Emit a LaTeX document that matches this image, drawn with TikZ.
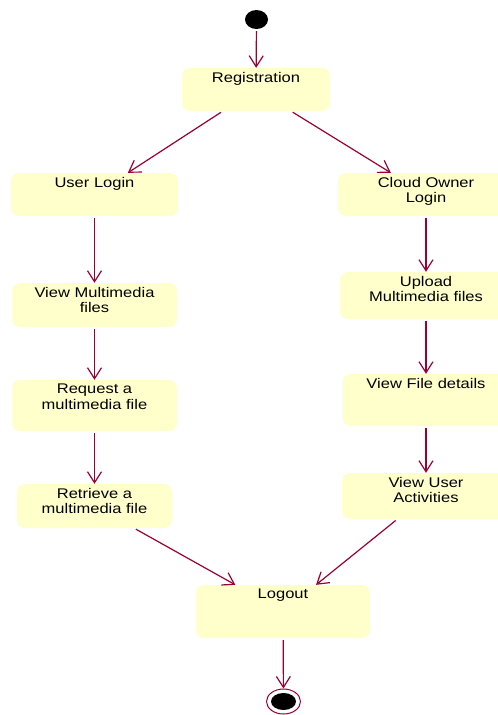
\documentclass[tikz,border=0pt]{standalone}
\usepackage{fontspec}
\setmainfont{Liberation Sans}[FakeStretch=1.18]
\usetikzlibrary{arrows.meta,shapes.geometric}
\definecolor{boxfill}{HTML}{FFFFCC}
\definecolor{flow}{HTML}{990033}
\tikzset{
  statebox/.style={rectangle, rounded corners=8pt, fill=boxfill, draw=none, inner sep=0pt},
  lbl/.style={anchor=north, inner sep=0pt, yshift=-4pt, align=center, font=\fontsize{14}{15.6}\selectfont},
  flowarrow/.style={draw=flow, line width=1.2pt, shorten <=2pt, -{Straight Barb[length=11pt,width=14pt,line width=1.2pt]}}
}
\begin{document}
\begin{tikzpicture}[x=1pt,y=-1pt]
\useasboundingbox (0,0) rectangle (498,715);
\clip (0,0) rectangle (498,715);
\node[ellipse, fill=black, minimum width=23pt, minimum height=19pt, inner sep=0pt] (start) at (256.5,19.5) {};
\node[statebox, minimum width=148pt, minimum height=43pt, label={[lbl]north:Registration}] (reg) at (256,89.5) {};
\node[statebox, minimum width=167pt, minimum height=43pt, label={[lbl]north:User Login}] (ul) at (94.5,194.5) {};
\node[statebox, minimum width=176pt, minimum height=43pt, label={[lbl]north:Cloud Owner\\Login}] (col) at (426,194.5) {};
\node[statebox, minimum width=165pt, minimum height=44pt, label={[lbl]north:View Multimedia\\files}] (vmf) at (94.5,305) {};
\node[statebox, minimum width=165pt, minimum height=51pt, label={[lbl]north:Request a\\multimedia file}] (req) at (94.5,405.5) {};
\node[statebox, minimum width=155pt, minimum height=44pt, label={[lbl]north:Retrieve a\\multimedia file}] (ret) at (94.5,506) {};
\node[statebox, minimum width=172pt, minimum height=47pt, label={[lbl]north:Upload\\Multimedia files}] (up) at (426,295.5) {};
\node[statebox, minimum width=166pt, minimum height=52pt, label={[lbl]north:View File details}] (vfd) at (426,400) {};
\node[statebox, minimum width=168pt, minimum height=46pt, label={[lbl]north:View User\\Activities}] (vua) at (426,496) {};
\node[statebox, minimum width=174pt, minimum height=53pt, label={[lbl]north:Logout}] (out) at (283,611.5) {};
\node[ellipse, draw=flow, line width=1pt, fill=white, minimum width=34pt, minimum height=25pt, inner sep=0pt] (end) at (283.5,701.5) {};
\node[ellipse, fill=black, minimum width=25pt, minimum height=17pt, inner sep=0pt] (endin) at (283.5,701.5) {};
\path[flowarrow] (start) -- (reg);
\path[flowarrow] (reg) -- (ul);
\path[flowarrow] (reg) -- (col);
\path[flowarrow] (ul) -- (vmf);
\path[flowarrow] (vmf) -- (req);
\path[flowarrow] (req) -- (ret);
\path[flowarrow] (ret) -- (out);
\path[flowarrow] (col) -- (up);
\path[flowarrow] (up) -- (vfd);
\path[flowarrow] (vfd) -- (vua);
\path[flowarrow] (vua) -- (out);
\path[flowarrow] (out) -- (end);
\end{tikzpicture}
\end{document}
